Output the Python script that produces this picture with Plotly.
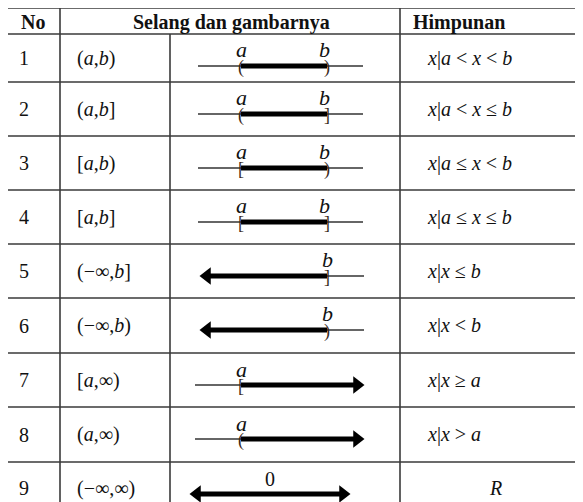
import plotly.graph_objects as go

# table content
numbers = ['1', '2', '3', '4', '5', '6', '7', '8', '9']
intervals = [
	'(<i>a</i>,<i>b</i>)', '(<i>a</i>,<i>b</i>]', '[<i>a</i>,<i>b</i>)', '[<i>a</i>,<i>b</i>]',
	'(\u2212\u221e,<i>b</i>]', '(\u2212\u221e,<i>b</i>)', '[<i>a</i>,\u221e)', '(<i>a</i>,\u221e)',
	'(\u2212\u221e,\u221e)',
]
sets = [
	'<i>x</i>|<i>a</i> < <i>x</i> < <i>b</i>',
	'<i>x</i>|<i>a</i> < <i>x</i> \u2264 <i>b</i>',
	'<i>x</i>|<i>a</i> \u2264 <i>x</i> < <i>b</i>',
	'<i>x</i>|<i>a</i> \u2264 <i>x</i> \u2264 <i>b</i>',
	'<i>x</i>|<i>x</i> \u2264 <i>b</i>',
	'<i>x</i>|<i>x</i> < <i>b</i>',
	'<i>x</i>|<i>x</i> \u2265 <i>a</i>',
	'<i>x</i>|<i>x</i> > <i>a</i>',
	'<i>R</i>',
]
# endpoint kinds of each interval: bracket char, or None for infinity
left_ends = ['(', '(', '[', '[', None, None, '[', '(', None]
right_ends = [')', ']', ')', ']', ']', ')', None, None, None]
headers = ['No', 'Selang dan gambarnya', 'Himpunan']

# layout constants (page pixels; the page body has an 8px margin)
W, H = 583, 502
PAD = 8
COLS = [7, 60, 170, 400, 600]
ROWS = [8, 34, 82, 136, 190, 244, 298, 353, 407, 462, 516]
A_X, B_X = 241, 327
LINE_L, LINE_R = 198, 363
ARROW_L, ARROW_R = 200, 364
FONT = 'Liberation Serif'
SIZE = 20
INK = '#111111'
GRID = '#3a3a3a'

fig = go.Figure()
shapes = []
annotations = []

def txt(x, y, s, size=SIZE, anchor='left', bold=False, color=INK):
	annotations.append(dict(
		x=x, y=y, xref='x', yref='y', text=f'<b>{s}</b>' if bold else s, showarrow=False,
		xanchor=anchor, yanchor='middle', font=dict(family=FONT, size=size, color=color),
	))

def hline(x0, x1, y):
	shapes.append(dict(type='line', x0=x0, x1=x1, y0=y, y1=y, line=dict(color=GRID, width=1.6), layer='above'))

def vline(x, y0, y1):
	shapes.append(dict(type='line', x0=x, x1=x, y0=y0, y1=y1, line=dict(color=GRID, width=1.6), layer='above'))

# grid
for y in ROWS[:-1]:
	hline(COLS[0], W + 5, y)
vline(COLS[0], ROWS[0], ROWS[-1])
vline(COLS[1], ROWS[0], ROWS[-1])
vline(COLS[2], ROWS[1], ROWS[-1])
vline(COLS[3], ROWS[0], ROWS[-1])

# header
hy = (ROWS[0] + ROWS[1]) / 2 + 1
txt(19, hy, headers[0], bold=True)
txt((COLS[1] + COLS[3]) / 2 + 1, hy, headers[1], anchor='center', bold=True)
txt(411, hy, headers[2], bold=True)

def seg(x0, x1, y, width, color='black'):
	fig.add_trace(go.Scatter(
		x=[x0, x1], y=[y, y], mode='lines', line=dict(color=color, width=width),
		hoverinfo='skip', showlegend=False,
	))

def head(x, y, side):
	fig.add_trace(go.Scatter(
		x=[x], y=[y], mode='markers',
		marker=dict(symbol='triangle-' + side, size=15, color='black', line=dict(width=0)),
		hoverinfo='skip', showlegend=False,
	))

def bracket(x, y, ch):
	txt(x, y + 1, ch, size=18, anchor='center', color='#3a2a1a')

for i in range(len(numbers)):
	top, bot = ROWS[i + 1], ROWS[i + 2]
	cy = (top + bot) / 2
	if i == len(numbers) - 1:
		cy = top + 26
	txt(17, cy, numbers[i])
	txt(75, cy, intervals[i])
	if left_ends[i] is None and right_ends[i] is None:
		txt(495, cy, sets[i], anchor='center')
	else:
		txt(425, cy, sets[i])

	# number line
	ly = top + 32
	le, re = left_ends[i], right_ends[i]
	if le is None and re is None:
		x0, x1 = 190, 350
		seg(x0 + 10, x1 - 10, ly, 5)
		head(x0 + 7, ly, 'left')
		head(x1 - 7, ly, 'right')
		txt((x0 + x1) / 2, ly - 15, '0', anchor='center')
		continue
	if le is None:
		seg(B_X, ARROW_R, ly, 1.5, '#333333')
		seg(ARROW_L + 10, B_X, ly, 5)
		head(ARROW_L + 7, ly, 'left')
		bracket(B_X, ly, re)
		txt(B_X, ly - 17, '<i>b</i>', size=22, anchor='center')
	elif re is None:
		seg(LINE_L - 3, A_X, ly, 1.5, '#333333')
		seg(A_X, ARROW_R - 10, ly, 5)
		head(ARROW_R - 7, ly, 'right')
		bracket(A_X, ly, le)
		txt(A_X, ly - 16, '<i>a</i>', size=22, anchor='center')
	else:
		seg(LINE_L, LINE_R, ly, 1.5, '#333333')
		seg(A_X, B_X, ly, 5)
		bracket(A_X, ly, le)
		bracket(B_X, ly, re)
		txt(A_X, ly - 17, '<i>a</i>', size=22, anchor='center')
		txt(B_X - 3, ly - 17, '<i>b</i>', size=22, anchor='center')

fig.update_layout(
	width=W - PAD, height=H - PAD, margin=dict(l=0, r=0, t=0, b=0),
	paper_bgcolor='white', plot_bgcolor='white',
	shapes=shapes, annotations=annotations, showlegend=False,
)
fig.update_xaxes(range=[PAD, W], visible=False, fixedrange=True)
fig.update_yaxes(range=[H, PAD], visible=False, fixedrange=True)
fig.write_html('out.html', config={'displayModeBar': False})
